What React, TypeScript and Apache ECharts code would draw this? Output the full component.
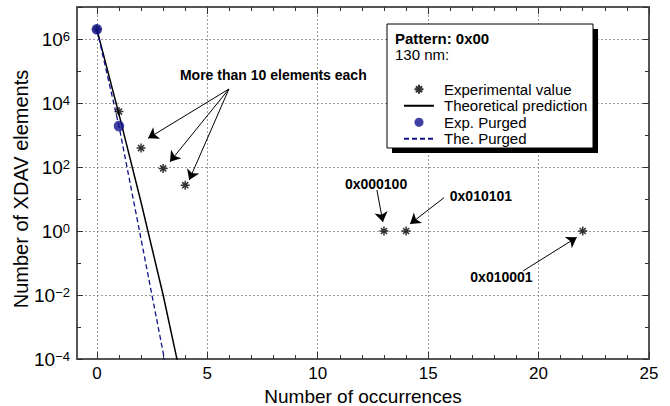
import React, { useEffect, useRef } from 'react';
import * as echarts from 'echarts';

// ---- data ----
const expX = [0, 1, 2, 3, 4, 13, 14, 22];
const expY = [2.0e6, 5400, 390, 90, 27, 1, 1, 1];

const theoX = [0, 1, 2, 3, 4];
const theoY = [2.0e6, 4470, 7.9, 0.01, 6.3e-6];

const purgedExpX = [0, 1];
const purgedExpY = [2.0e6, 1900];

const purgedTheoX = [0, 1, 2, 3, 4];
const purgedTheoY = [2.0e6, 1905, 0.56, 1.6e-4, 3.2e-8];

const seriesNames = ['Experimental value', 'Theoretical prediction', 'Exp. Purged', 'The. Purged'];

// axis ticks
const xMajorTicks = [0, 5, 10, 15, 20, 25];
const xMinorTicks = Array.from({ length: 26 }, (_, i) => i);

// annotations (data coordinates)
const noteTexts = ['More than 10 elements each', '0x000100', '0x010101', '0x010001'];
const noteX = [7.99, 12.64, 17.39, 18.32];
const noteY = [75000, 29.4, 12.4, 0.0365];

const arrowFromX = [5.98, 5.98, 5.98, 12.68, 15.72, 19.29];
const arrowFromY = [27400, 27400, 27400, 19.1, 11, 0.056];
const arrowToX = [2.32, 3.31, 4.18, 12.95, 14.18, 21.73];
const arrowToY = [790, 146, 39, 1.9, 1.66, 0.635];

const legendTitle = 'Pattern: 0x00';
const legendSub = '130 nm:';
const xTitle = 'Number of occurrences';
const yTitle = 'Number of XDAV elements';

const FONT = "'Liberation Sans', Arial, Helvetica, sans-serif";
const NAVY = '#10108c';
const ASTERISK = 'path://M5,0L5,10M0,5L10,5M1.6,1.6L8.4,8.4M1.6,8.4L8.4,1.6';

const zip = (xs: number[], ys: number[]) => xs.map((x, i) => [x, ys[i]]);

const X_MIN = -0.9;
const X_MAX = 25;

function xAxisCfg(position: 'bottom' | 'top', major: boolean, labelled: boolean): any {
  return {
    type: 'value',
    position,
    min: X_MIN,
    max: X_MAX,
    axisLine: { show: major, onZero: false, lineStyle: { color: '#555', width: 2 } },
    axisTick: {
      show: true,
      inside: true,
      length: major ? 7 : 4,
      lineStyle: { color: '#333', width: 1 },
      customValues: major ? xMajorTicks : xMinorTicks,
    },
    axisLabel: labelled
      ? {
          show: true,
          fontSize: 17,
          color: '#000',
          fontFamily: FONT,
          margin: 6,
          customValues: xMajorTicks,
          formatter: (v: number) => String(v),
        }
      : { show: false },
    splitLine: labelled ? { show: true, lineStyle: { color: '#9a9a9a', type: [2, 2], width: 1 } } : { show: false },
    ...(labelled
      ? {
          name: xTitle,
          nameLocation: 'middle',
          nameGap: 25,
          nameTextStyle: { fontSize: 19, color: '#000', fontFamily: FONT },
        }
      : {}),
  };
}

function yAxisCfg(position: 'left' | 'right', interval: number, major: boolean, labelled: boolean): any {
  return {
    type: 'log',
    logBase: 10,
    position,
    min: 1e-4,
    max: 1e7,
    interval,
    axisLine: { show: major, onZero: false, lineStyle: { color: '#555', width: 2 } },
    axisTick: { show: true, inside: true, length: major ? 6 : 4, lineStyle: { color: '#333', width: 1 } },
    axisLabel: labelled
      ? {
          show: true,
          color: '#000',
          margin: 7,
          formatter: (v: number) => {
            const e = Math.round(Math.log10(v));
            if (e % 2 !== 0) return '';
            return `{n|10}{s|${e < 0 ? '\u2212' : ''}${Math.abs(e)}}`;
          },
          rich: {
            n: { fontSize: 19, fontFamily: FONT, color: '#000' },
            s: { fontSize: 13, fontFamily: FONT, color: '#000', verticalAlign: 'top' },
          },
        }
      : { show: false },
    splitLine: labelled ? { show: true, lineStyle: { color: '#9a9a9a', type: [2, 2], width: 1 } } : { show: false },
  };
}

export default function App() {
  const ref = useRef<HTMLDivElement>(null);

  useEffect(() => {
    document.body.style.margin = '0';
    const chart = echarts.init(ref.current!, null, { renderer: 'svg' });

    const option: any = {
      animation: false,
      backgroundColor: '#fff',
      grid: { left: 77, right: 21, top: 7, bottom: 47, containLabel: false, outerBoundsMode: 'none' },
      xAxis: [
        xAxisCfg('bottom', true, true),
        xAxisCfg('bottom', false, false),
        xAxisCfg('top', true, false),
        xAxisCfg('top', false, false),
      ],
      yAxis: [
        yAxisCfg('left', 2, true, true),
        yAxisCfg('left', 1, false, false),
        yAxisCfg('right', 2, true, false),
        yAxisCfg('right', 1, false, false),
      ],
      legend: {
        show: true,
        orient: 'vertical',
        left: 398,
        top: 76,
        itemWidth: 30,
        itemHeight: 9,
        itemGap: 0,
        selectedMode: false,
        z: 10,
        textStyle: { fontSize: 15, color: '#000', fontFamily: FONT, lineHeight: 16.5, padding: [0, 0, 0, 5] },
        data: [
          { name: seriesNames[0] },
          { name: seriesNames[1], itemStyle: { opacity: 0 } },
          { name: seriesNames[2] },
          { name: seriesNames[3], itemStyle: { opacity: 0 } },
        ],
      },
      graphic: [
        { type: 'rect', z: 5, silent: true, shape: { x: 392, y: 29, width: 206, height: 124 }, style: { fill: '#000' } },
        {
          type: 'rect',
          z: 6,
          silent: true,
          shape: { x: 387, y: 24, width: 206, height: 124 },
          style: { fill: '#fff', stroke: '#000', lineWidth: 1 },
        },
        {
          type: 'text',
          z: 7,
          x: 395,
          y: 38.5,
          style: { text: legendTitle, font: `bold 15px ${FONT}`, fill: '#000', verticalAlign: 'middle' },
        },
        {
          type: 'text',
          z: 7,
          x: 395,
          y: 54,
          style: { text: legendSub, font: `15px ${FONT}`, fill: '#000', verticalAlign: 'middle' },
        },
        {
          type: 'text',
          z: 7,
          x: 20.5,
          y: 189,
          rotation: Math.PI / 2,
          style: {
            text: yTitle,
            font: `20px ${FONT}`,
            fill: '#000',
            align: 'center',
            verticalAlign: 'middle',
          },
        },
      ],
      series: [
        {
          name: 'Theoretical prediction',
          type: 'line',
          data: zip(theoX, theoY),
          symbol: 'none',
          lineStyle: { color: '#000', width: 1.5 },
          itemStyle: { color: '#000' },
          z: 2,
        },
        {
          name: 'The. Purged',
          type: 'line',
          data: zip(purgedTheoX, purgedTheoY),
          symbol: 'none',
          lineStyle: { color: NAVY, width: 1.3, type: [5, 3] },
          itemStyle: { color: NAVY },
          z: 2,
        },
        {
          name: 'Experimental value',
          type: 'scatter',
          data: zip(expX, expY),
          symbol: ASTERISK,
          symbolSize: 9,
          itemStyle: { color: '#000', borderColor: '#000', borderWidth: 1.5 },
          z: 3,
          markLine: {
            silent: true,
            symbol: ['none', 'arrow'],
            symbolSize: 10,
            label: { show: false },
            lineStyle: { color: '#000', width: 1, type: 'solid' },
            emphasis: { disabled: true },
            data: arrowFromX.map((fx, i) => [
              { coord: [fx, arrowFromY[i]] },
              { coord: [arrowToX[i], arrowToY[i]] },
            ]),
          },
          markPoint: {
            silent: true,
            symbol: 'circle',
            symbolSize: 1,
            itemStyle: { color: 'rgba(0,0,0,0)' },
            label: {
              show: true,
              position: 'inside',
              color: '#000',
              fontWeight: 'bold',
              fontSize: 14,
              fontFamily: FONT,
              formatter: (p: any) => p.name,
            },
            data: noteTexts.map((t, i) => ({ name: t, coord: [noteX[i], noteY[i]] })),
          },
        },
        {
          name: 'Exp. Purged',
          type: 'scatter',
          data: zip(purgedExpX, purgedExpY),
          symbol: 'circle',
          symbolSize: 10.5,
          itemStyle: { color: NAVY },
          z: 4,
        },
      ],
    };

    chart.setOption(option);
    return () => chart.dispose();
  }, []);

  return <div ref={ref} style={{ width: 670, height: 406 }} />;
}
